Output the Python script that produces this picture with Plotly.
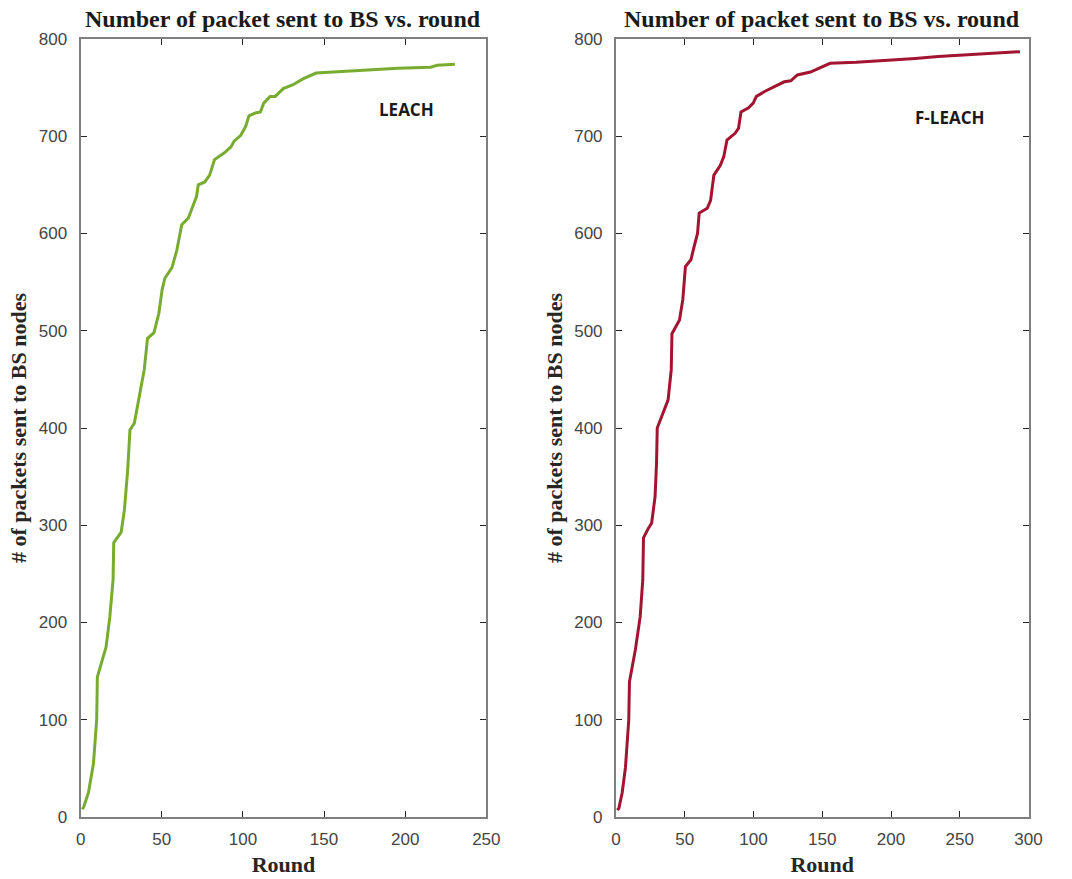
import plotly.graph_objects as go
from plotly.subplots import make_subplots

# LEACH
leach_round = [1, 1.8, 4.8, 7.9, 9.9, 10.3, 15.7, 18, 20, 20.4, 25, 27, 29, 30.4, 33.1, 36.1, 39.2, 41.2,
               45.2, 48.2, 50.2, 51.9, 56.3, 59.3, 62.3, 66.4, 68.4, 71.4, 72.5, 76.5, 79.5, 82.5,
               88.6, 92.6, 94.6, 98.7, 101.7, 103.7, 107.7, 110.8, 112.8, 116.8, 119.9, 124.9, 130.9,
               137, 145.1, 155.1, 175.4, 195.5, 215.7, 219.7, 230.6]
leach_packets = [8, 10, 25, 55, 100, 144, 175, 206, 244, 282, 293, 316, 357, 398, 405, 432, 460, 492,
                 498, 518, 542, 554, 565, 583, 609, 616, 624, 638, 650, 653, 660, 676,
                 683, 689, 695, 701, 710, 721, 724, 725, 734, 741, 741, 749, 753,
                 759, 765, 766, 768, 770, 771, 773, 774]

# F-LEACH
fleach_round = [1, 2.1, 4.5, 6.9, 9.3, 9.8, 14.1, 17.6, 19.5, 20, 23.6, 25.9, 28.4, 29.5, 30, 34.3, 37.9,
                40.2, 40.7, 46.2, 48.6, 50.5, 54.5, 56.9, 59.3, 60.5, 66.4, 68.8, 71.2, 75.9, 78.4,
                80.7, 86.6, 89.1, 90.9, 96.2, 99.8, 102.1, 108.1, 115.2, 122.4, 127.1, 131.9, 141.4,
                155.7, 174.8, 198.6, 217.6, 234.3, 258.1, 274.8, 293.8]
fleach_packets = [7, 9, 25, 51, 100, 139, 172, 206, 244, 287, 297, 302, 329, 364, 400, 415, 429,
                  460, 497, 511, 532, 566, 573, 587, 600, 621, 626, 634, 660, 670, 679,
                  696, 703, 708, 725, 729, 734, 741, 746, 751, 756, 757, 763, 766,
                  775, 776, 778, 780, 782, 784, 785, 787]

title_text = "Number of packet sent to BS vs. round"
y_title = "# of packets sent to BS nodes"
x_title = "Round"

fig = make_subplots(rows=1, cols=2, horizontal_spacing=0.1)

fig.add_trace(go.Scatter(x=leach_round, y=leach_packets, mode="lines",
                         line=dict(color="#77AC30", width=3), showlegend=False), row=1, col=1)
fig.add_trace(go.Scatter(x=fleach_round, y=fleach_packets, mode="lines",
                         line=dict(color="#A2142F", width=3), showlegend=False), row=1, col=2)

title_font = dict(family="Liberation Serif", size=24, color="#1a1a1a")
axis_title_font = dict(family="Liberation Serif", size=22, color="#262626")
tick_font = dict(family="Liberation Sans", size=17, color="#444444")

common_axis = dict(showline=True, linecolor="#7f7f7f", linewidth=2, mirror="ticks",
                   ticks="inside", ticklen=6, tickcolor="#262626", tickwidth=1,
                   showgrid=False, zeroline=False, tickfont=tick_font)

fig.update_xaxes(**common_axis, ticklabelstandoff=6)
fig.update_yaxes(**common_axis, ticklabelstandoff=8)

fig.update_layout(
    xaxis=dict(domain=[77/1072, 490/1072], range=[0, 250], tickvals=[0, 50, 100, 150, 200, 250],
               title=dict(text="<b>" + x_title + "</b>", font=axis_title_font, standoff=8)),
    xaxis2=dict(domain=[622/1072, 1042/1072], range=[0, 300], tickvals=[0, 50, 100, 150, 200, 250, 300],
                title=dict(text="<b>" + x_title + "</b>", font=axis_title_font, standoff=8)),
    yaxis=dict(range=[0, 800], tickvals=list(range(0, 801, 100)),
               title=dict(text="<b>" + y_title + "</b>", font=axis_title_font, standoff=6)),
    yaxis2=dict(range=[0, 800], tickvals=list(range(0, 801, 100)),
                title=dict(text="<b>" + y_title + "</b>", font=axis_title_font, standoff=6)),
    width=1072, height=879,
    margin=dict(l=0, r=0, t=39, b=62),
    paper_bgcolor="white", plot_bgcolor="white",
    annotations=[
        dict(text="<b>" + title_text + "</b>", x=(77 + 490) / 2 / 1072, y=1, xref="paper", yref="paper",
             xanchor="center", yanchor="bottom", yshift=5, showarrow=False, font=title_font),
        dict(text="<b>" + title_text + "</b>", x=(622 + 1042) / 2 / 1072, y=1, xref="paper", yref="paper",
             xanchor="center", yanchor="bottom", yshift=5, showarrow=False, font=title_font),
        dict(text="<b>LEACH</b>", x=201, y=727, xref="x", yref="y", showarrow=False,
             font=dict(family="Open Sans", size=17, color="#1a1a1a")),
        dict(text="<b>F-LEACH</b>", x=243, y=719, xref="x2", yref="y2", showarrow=False,
             font=dict(family="Open Sans", size=17, color="#1a1a1a")),
    ],
)

fig.write_html("out.html")
